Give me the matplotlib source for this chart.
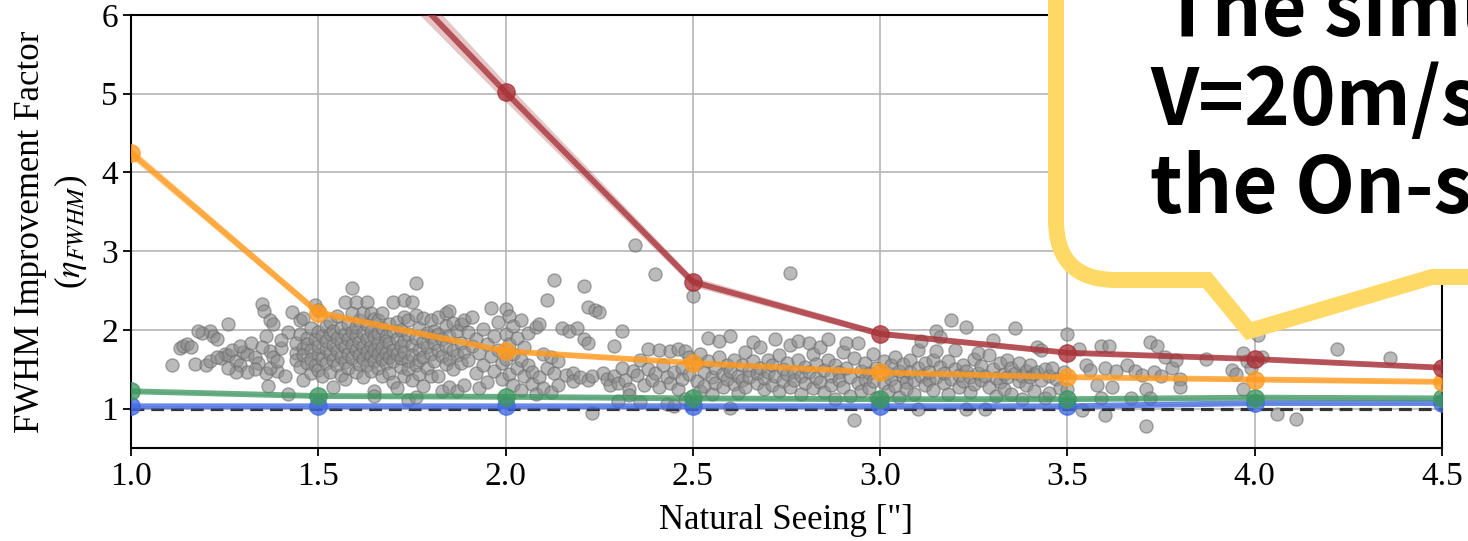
import matplotlib
matplotlib.use("Agg")
import matplotlib.pyplot as plt
from matplotlib.path import Path
from matplotlib.patches import PathPatch

# simulated improvement factor per natural seeing
seeing = [1.0, 1.5, 2.0, 2.5, 3.0, 3.5, 4.0, 4.5]
eta_red = [13.0, 7.5, 5.02, 2.61, 1.95, 1.71, 1.63, 1.52]
eta_orange = [4.25, 2.22, 1.73, 1.58, 1.46, 1.40, 1.37, 1.34]
eta_green = [1.22, 1.16, 1.15, 1.13, 1.12, 1.12, 1.14, 1.13]
eta_blue = [1.03, 1.03, 1.03, 1.03, 1.03, 1.03, 1.07, 1.07]
err_red = [0.40, 0.20, 0.12, 0.06, 0.04, 0.03, 0.03, 0.03]
err_orange = [0.07, 0.05, 0.03, 0.02, 0.02, 0.02, 0.02, 0.02]
err_small = [0.01] * 8

# on-site measurements (seeing, eta)
obs_a = [(1.11, 1.55), (1.17, 1.57), (1.13, 1.77), (1.14, 1.80), (1.15, 1.82), (1.16, 1.78),
         (1.21, 1.98), (1.22, 1.92), (1.23, 1.89), (1.26, 2.07), (1.20, 1.56), (1.21, 1.60),
         (1.24, 1.64), (1.25, 1.70), (1.26, 1.68), (1.27, 1.74), (1.28, 1.61), (1.29, 1.55),
         (1.30, 1.72), (1.31, 1.69), (1.29, 1.79), (1.32, 1.83), (1.33, 1.66), (1.34, 1.58),
         (1.35, 2.33), (1.355, 2.24), (1.37, 2.13), (1.38, 2.07), (1.36, 1.92), (1.37, 1.73),
         (1.38, 1.65), (1.39, 1.48), (1.365, 1.29), (1.36, 1.45), (1.37, 1.52), (1.39, 1.60),
         (1.40, 1.77), (1.35, 1.78), (1.33, 1.50), (1.31, 1.47), (1.42, 1.18), (1.43, 2.23),
         (1.42, 1.97), (1.41, 1.41), (1.40, 1.87), (1.28, 1.46), (1.26, 1.52), (1.23, 1.66),
         (1.19, 1.96), (1.18, 1.98)]
obs_b = [(1.44, 1.71), (1.44, 1.84), (1.44, 1.62), (1.45, 1.95), (1.45, 1.53), (1.45, 2.12),
         (1.46, 1.77), (1.46, 1.68), (1.46, 1.36), (1.46, 2.15), (1.47, 1.90), (1.47, 1.58),
         (1.47, 1.82), (1.48, 2.02), (1.48, 1.74), (1.48, 1.45), (1.48, 1.63), (1.49, 2.32),
         (1.49, 1.88), (1.49, 1.55), (1.50, 1.97), (1.50, 1.70), (1.50, 1.49), (1.50, 1.80),
         (1.50, 2.25), (1.51, 1.63), (1.51, 1.92), (1.51, 1.42), (1.52, 2.05), (1.52, 1.76),
         (1.52, 1.58), (1.52, 1.86), (1.53, 1.69), (1.53, 1.95), (1.53, 1.47), (1.53, 2.10),
         (1.54, 1.28), (1.54, 1.81), (1.54, 1.62), (1.54, 1.99), (1.55, 1.73), (1.55, 2.18),
         (1.55, 1.55), (1.55, 1.90), (1.56, 1.84), (1.56, 1.66), (1.56, 2.02), (1.56, 1.43),
         (1.57, 2.35), (1.57, 1.59), (1.57, 1.78), (1.57, 1.95), (1.57, 1.38), (1.58, 1.70),
         (1.58, 2.08), (1.58, 1.88), (1.58, 1.52), (1.59, 2.53), (1.59, 2.21), (1.59, 1.64),
         (1.59, 1.81), (1.59, 1.97), (1.60, 2.35), (1.60, 1.75), (1.60, 1.92), (1.60, 1.46),
         (1.60, 2.04), (1.61, 1.68), (1.61, 1.85), (1.61, 1.57), (1.61, 2.12), (1.62, 2.22),
         (1.62, 1.78), (1.62, 1.96), (1.62, 1.40), (1.62, 1.63), (1.63, 2.35), (1.63, 1.89),
         (1.63, 1.72), (1.63, 1.55), (1.63, 2.06), (1.64, 2.21), (1.64, 1.80), (1.64, 1.67),
         (1.64, 1.98), (1.64, 1.48), (1.65, 1.22), (1.65, 1.16), (1.65, 1.74), (1.65, 1.91),
         (1.65, 2.14), (1.65, 1.60), (1.66, 2.13), (1.66, 1.84), (1.66, 1.69), (1.66, 1.52),
         (1.66, 1.96), (1.67, 2.21), (1.67, 1.77), (1.67, 2.03), (1.67, 1.63), (1.67, 1.41),
         (1.68, 1.92), (1.68, 1.71), (1.68, 1.58), (1.68, 1.86), (1.69, 2.08), (1.69, 1.83),
         (1.69, 1.66), (1.69, 1.45), (1.70, 2.35), (1.70, 1.98), (1.70, 1.75), (1.70, 1.60),
         (1.70, 1.34), (1.71, 1.26), (1.71, 1.88), (1.71, 1.69), (1.71, 2.10), (1.72, 2.00),
         (1.72, 1.79), (1.72, 1.53), (1.72, 1.64), (1.73, 2.38), (1.73, 2.17), (1.73, 1.86),
         (1.73, 1.72), (1.73, 1.42), (1.74, 2.13), (1.74, 1.95), (1.74, 1.61), (1.74, 1.50),
         (1.74, 1.11), (1.75, 2.35), (1.75, 1.81), (1.75, 1.68), (1.75, 1.37), (1.76, 2.59),
         (1.76, 2.19), (1.76, 1.90), (1.76, 1.15), (1.76, 1.56), (1.77, 2.02), (1.77, 1.74),
         (1.77, 1.62), (1.77, 1.44), (1.78, 2.15), (1.78, 1.85), (1.78, 1.66), (1.78, 1.29),
         (1.79, 1.96), (1.79, 1.78), (1.79, 1.52), (1.80, 2.13), (1.80, 1.91), (1.80, 1.70),
         (1.80, 1.41), (1.81, 1.83), (1.81, 1.60), (1.81, 1.99), (1.82, 2.16), (1.82, 1.41),
         (1.82, 1.74), (1.82, 1.95), (1.83, 1.88), (1.83, 1.67), (1.83, 1.22), (1.84, 2.21),
         (1.84, 2.05), (1.84, 1.79), (1.84, 1.57), (1.85, 2.24), (1.85, 1.92), (1.85, 1.63),
         (1.85, 1.28), (1.86, 2.09), (1.86, 1.75), (1.86, 1.50), (1.87, 1.98), (1.87, 1.68),
         (1.87, 1.22), (1.88, 2.07), (1.88, 1.84), (1.88, 1.58), (1.89, 2.13), (1.89, 1.72),
         (1.89, 1.30)]
obs_c = [(1.90, 1.97), (1.90, 1.62), (1.91, 2.17), (1.91, 1.80), (1.92, 1.45), (1.92, 1.88),
         (1.93, 1.71), (1.93, 1.26), (1.94, 2.01), (1.94, 1.55), (1.95, 1.82), (1.95, 1.34),
         (1.96, 2.28), (1.96, 1.67), (1.97, 1.92), (1.97, 1.48), (1.98, 1.75), (1.98, 2.10),
         (1.99, 1.58), (1.99, 1.38), (2.00, 2.26), (2.00, 1.95), (2.00, 1.63), (2.01, 2.18),
         (2.01, 1.82), (2.01, 1.44), (2.02, 2.05), (2.02, 1.70), (2.02, 1.30), (2.03, 1.90),
         (2.03, 1.52), (2.04, 2.12), (2.04, 1.62), (2.04, 1.24), (2.05, 1.78), (2.05, 1.41),
         (2.06, 1.96), (2.06, 1.55), (2.07, 1.47), (2.07, 1.31), (2.08, 2.04), (2.08, 1.19),
         (2.09, 2.08), (2.09, 1.40), (2.10, 1.70), (2.10, 1.26), (2.11, 2.38), (2.11, 1.52),
         (2.12, 1.65), (2.12, 1.21), (2.13, 2.64), (2.13, 1.45), (2.14, 1.61), (2.14, 1.30),
         (2.15, 2.03), (2.16, 1.43), (2.17, 1.99), (2.18, 1.45), (2.18, 1.35), (2.19, 2.02),
         (2.20, 1.40), (2.21, 2.56), (2.21, 1.89), (2.22, 2.29), (2.22, 1.84), (2.22, 1.37),
         (2.23, 0.95), (2.23, 1.42), (2.24, 2.25), (2.25, 2.23)]
obs_d = [(2.26, 1.45), (2.27, 1.38), (2.28, 1.30), (2.29, 1.79), (2.29, 1.41), (2.30, 1.33),
         (2.31, 1.98), (2.31, 1.52), (2.32, 1.37), (2.33, 1.25), (2.34, 1.48), (2.345, 3.08),
         (2.35, 1.43), (2.36, 1.62), (2.37, 1.30), (2.38, 1.76), (2.38, 1.50), (2.39, 1.36),
         (2.40, 2.71), (2.40, 1.45), (2.41, 1.74), (2.41, 1.28), (2.42, 1.56), (2.43, 1.40),
         (2.44, 1.73), (2.44, 1.32), (2.45, 1.47), (2.46, 1.76), (2.46, 1.25), (2.47, 1.52),
         (2.47, 1.38), (2.48, 1.73), (2.48, 1.12), (2.49, 1.44), (2.49, 1.66), (2.30, 1.10),
         (2.36, 1.08), (2.43, 1.06), (2.45, 1.03), (2.33, 1.17)]
obs_e = [(2.50, 2.43), (2.51, 1.58), (2.51, 1.35), (2.52, 1.22), (2.52, 1.70), (2.53, 1.47),
         (2.53, 1.29), (2.54, 1.90), (2.54, 1.60), (2.55, 1.40), (2.55, 1.18), (2.56, 1.52),
         (2.56, 1.33), (2.57, 1.86), (2.57, 1.65), (2.58, 1.44), (2.58, 1.27), (2.59, 1.55),
         (2.59, 1.38), (2.60, 1.92), (2.60, 1.01), (2.60, 1.48), (2.61, 1.31), (2.61, 1.62),
         (2.62, 1.42), (2.62, 1.20), (2.63, 1.56), (2.63, 1.36), (2.64, 1.72), (2.64, 1.28),
         (2.65, 1.49), (2.65, 1.40), (2.66, 1.85), (2.66, 1.60), (2.67, 1.33), (2.67, 1.45),
         (2.68, 1.78), (2.68, 1.52), (2.69, 1.25), (2.69, 1.39), (2.70, 1.62), (2.70, 1.46),
         (2.71, 1.30), (2.71, 1.55), (2.72, 1.88), (2.72, 1.41), (2.73, 1.68), (2.73, 1.22),
         (2.74, 1.50), (2.74, 1.35), (2.75, 1.44), (2.75, 1.58), (2.76, 2.72), (2.76, 1.81),
         (2.76, 1.28), (2.77, 1.47), (2.77, 1.36), (2.78, 1.86), (2.78, 1.62), (2.79, 1.42),
         (2.79, 1.18), (2.80, 1.53), (2.80, 1.32), (2.81, 1.84), (2.81, 1.46), (2.82, 1.70),
         (2.82, 1.26), (2.83, 1.39), (2.83, 1.57), (2.84, 1.78), (2.84, 1.34), (2.85, 1.49),
         (2.85, 1.21), (2.86, 1.88), (2.86, 1.62), (2.87, 1.42), (2.87, 1.30), (2.88, 1.55),
         (2.88, 1.12), (2.89, 1.46), (2.89, 1.37), (2.90, 1.72), (2.90, 1.28), (2.91, 1.84),
         (2.91, 1.51), (2.92, 1.40), (2.92, 1.16), (2.93, 0.86), (2.93, 1.64), (2.94, 1.83),
         (2.94, 1.33), (2.95, 1.48), (2.95, 1.22), (2.96, 1.58), (2.96, 1.38), (2.97, 1.45),
         (2.97, 1.26), (2.98, 1.69), (2.98, 1.35), (2.99, 1.52), (2.99, 1.14)]
obs_f = [(3.01, 1.60), (3.01, 1.33), (3.02, 1.45), (3.02, 1.22), (3.03, 1.55), (3.03, 1.38),
         (3.04, 1.29), (3.04, 1.66), (3.05, 1.48), (3.05, 1.15), (3.06, 1.41), (3.06, 1.57),
         (3.07, 1.34), (3.07, 1.25), (3.08, 1.62), (3.08, 1.46), (3.09, 1.37), (3.09, 1.19),
         (3.10, 1.75), (3.10, 1.51), (3.10, 1.00), (3.11, 1.86), (3.11, 1.42), (3.12, 1.30),
         (3.12, 1.58), (3.13, 1.36), (3.13, 1.47), (3.14, 1.62), (3.14, 1.24), (3.15, 1.98),
         (3.15, 1.73), (3.15, 1.40), (3.16, 1.91), (3.16, 1.53), (3.17, 1.33), (3.17, 1.45),
         (3.18, 1.60), (3.18, 1.18), (3.19, 2.13), (3.19, 1.38), (3.20, 1.74), (3.20, 1.50),
         (3.21, 1.27), (3.21, 1.43), (3.22, 1.56), (3.22, 1.35), (3.23, 2.04), (3.23, 1.00),
         (3.23, 1.48), (3.24, 1.40), (3.24, 1.21), (3.25, 1.63), (3.25, 1.31), (3.26, 1.71),
         (3.26, 1.45), (3.27, 1.37), (3.27, 1.54), (3.28, 0.99), (3.28, 1.42), (3.29, 1.68),
         (3.29, 1.28), (3.30, 1.87), (3.30, 1.50), (3.31, 1.39), (3.31, 1.16), (3.32, 1.58),
         (3.32, 1.34), (3.33, 1.44), (3.33, 1.25), (3.34, 1.62), (3.34, 1.40), (3.35, 1.52),
         (3.35, 1.19), (3.36, 2.02), (3.36, 1.45), (3.37, 1.35), (3.37, 1.58), (3.38, 1.42),
         (3.38, 1.12), (3.39, 1.48), (3.39, 1.30), (3.40, 1.55), (3.40, 1.40), (3.41, 1.44),
         (3.41, 1.23), (3.42, 1.78), (3.42, 1.46), (3.43, 1.75), (3.43, 1.36), (3.44, 1.50),
         (3.44, 1.14), (3.45, 1.20), (3.45, 1.42), (3.46, 1.52), (3.47, 1.38), (3.48, 1.26),
         (3.49, 1.47)]
obs_g = [(3.50, 1.95), (3.50, 1.25), (3.53, 1.76), (3.54, 0.98), (3.55, 1.55), (3.56, 1.49),
         (3.58, 1.30), (3.59, 1.79), (3.59, 1.14), (3.60, 0.92), (3.60, 1.52), (3.61, 1.79),
         (3.62, 1.27), (3.63, 1.48), (3.66, 1.55), (3.67, 1.13), (3.68, 1.48), (3.70, 1.43),
         (3.71, 0.78), (3.71, 1.25), (3.72, 1.85), (3.72, 1.13), (3.73, 1.46), (3.74, 1.79),
         (3.75, 1.41), (3.76, 1.65), (3.78, 1.52), (3.79, 1.62), (3.80, 1.38), (3.80, 1.28),
         (3.87, 1.63)]
obs_h = [(3.94, 1.49), (3.95, 1.44), (3.97, 1.71), (3.97, 1.25), (3.98, 1.61), (3.99, 1.52),
         (4.01, 1.94), (4.02, 1.66), (4.06, 0.93), (4.11, 0.87), (4.22, 1.76), (4.36, 1.64)]

xticks = [1.0, 1.5, 2.0, 2.5, 3.0, 3.5, 4.0, 4.5]
yticks = [1, 2, 3, 4, 5, 6]
bubble_lines = ["The simu", "V=20m/s", "the On-s"]

plt.rcParams["font.family"] = "serif"
plt.rcParams["font.serif"] = ["Liberation Serif", "DejaVu Serif"]
plt.rcParams["mathtext.fontset"] = "stix"

W, H = 1468, 541
fig = plt.figure(figsize=(W / 100, H / 100), dpi=100)
ax = fig.add_axes([131 / W, 93 / H, (1442 - 131) / W, (526 - 93) / H])

obs = obs_a + obs_b + obs_c + obs_d + obs_e + obs_f + obs_g + obs_h
ax.scatter([p[0] for p in obs], [p[1] for p in obs], s=88, color="#8c8c8c",
           alpha=0.6, edgecolors="#6e6e6e", linewidths=1.0, zorder=2)

ax.axhline(1.0, color="#333333", linestyle=(0, (4, 2.2)), linewidth=2.3, zorder=3)

series = [(eta_blue, err_small, "#4169e1"),
          (eta_green, err_small, "#3d9660"),
          (eta_orange, err_orange, "#ff9a1f"),
          (eta_red, err_red, "#a83238")]
for vals, err, col in series:
    lo = [v - e for v, e in zip(vals, err)]
    hi = [v + e for v, e in zip(vals, err)]
    ax.fill_between(seeing, lo, hi, color=col, alpha=0.28, linewidth=0, zorder=3)
    ax.plot(seeing, vals, color=col, alpha=0.78, linewidth=4.2, marker="o",
            markersize=12.5, zorder=4)

ax.set_xlim(1.0, 4.5)
ax.set_ylim(0.5, 6.0)
ax.set_xticks(xticks)
ax.set_xticklabels([f"{t:.1f}" for t in xticks])
ax.set_yticks(yticks)
ax.grid(True, color="#b5b5b5", linewidth=1.2, zorder=0)
ax.set_axisbelow(True)
for sp in ax.spines.values():
    sp.set_linewidth(1.5)
ax.tick_params(direction="out", length=6, width=1.3, labelsize=24)
ax.set_xlabel('Natural Seeing ["]', fontsize=25, labelpad=9)
ax.set_ylabel("FWHM Improvement Factor\n($\\eta_{FWHM}$)", fontsize=25)
ax.yaxis.set_label_coords(-0.031, 0.5)

# speech bubble overlay, in image pixel coordinates
def fpos(x, y):
    return (x / W, 1 - y / H)

verts = [fpos(1056, -40), fpos(1056, 220), fpos(1056, 280), fpos(1116, 280),
         fpos(1207, 280), fpos(1249, 331), fpos(1432, 277), fpos(1530, 277),
         fpos(1530, -40), fpos(1056, -40)]
codes = [Path.MOVETO, Path.LINETO, Path.CURVE3, Path.CURVE3, Path.LINETO,
         Path.LINETO, Path.LINETO, Path.LINETO, Path.LINETO, Path.CLOSEPOLY]
bubble = PathPatch(Path(verts, codes), facecolor="white", edgecolor="#fed966",
                   linewidth=11.5, joinstyle="miter", transform=fig.transFigure, zorder=5)
fig.add_artist(bubble)

for (bx, by), line in zip([(1163, 36), (1150, 125), (1150, 213)], bubble_lines):
    fig.text(bx / W, 1 - by / H, line, fontsize=56, fontweight="bold",
             family=["Noto Sans CJK JP", "DejaVu Sans"], color="black",
             ha="left", va="baseline", zorder=6)

fig.savefig("out.png", dpi=100)
